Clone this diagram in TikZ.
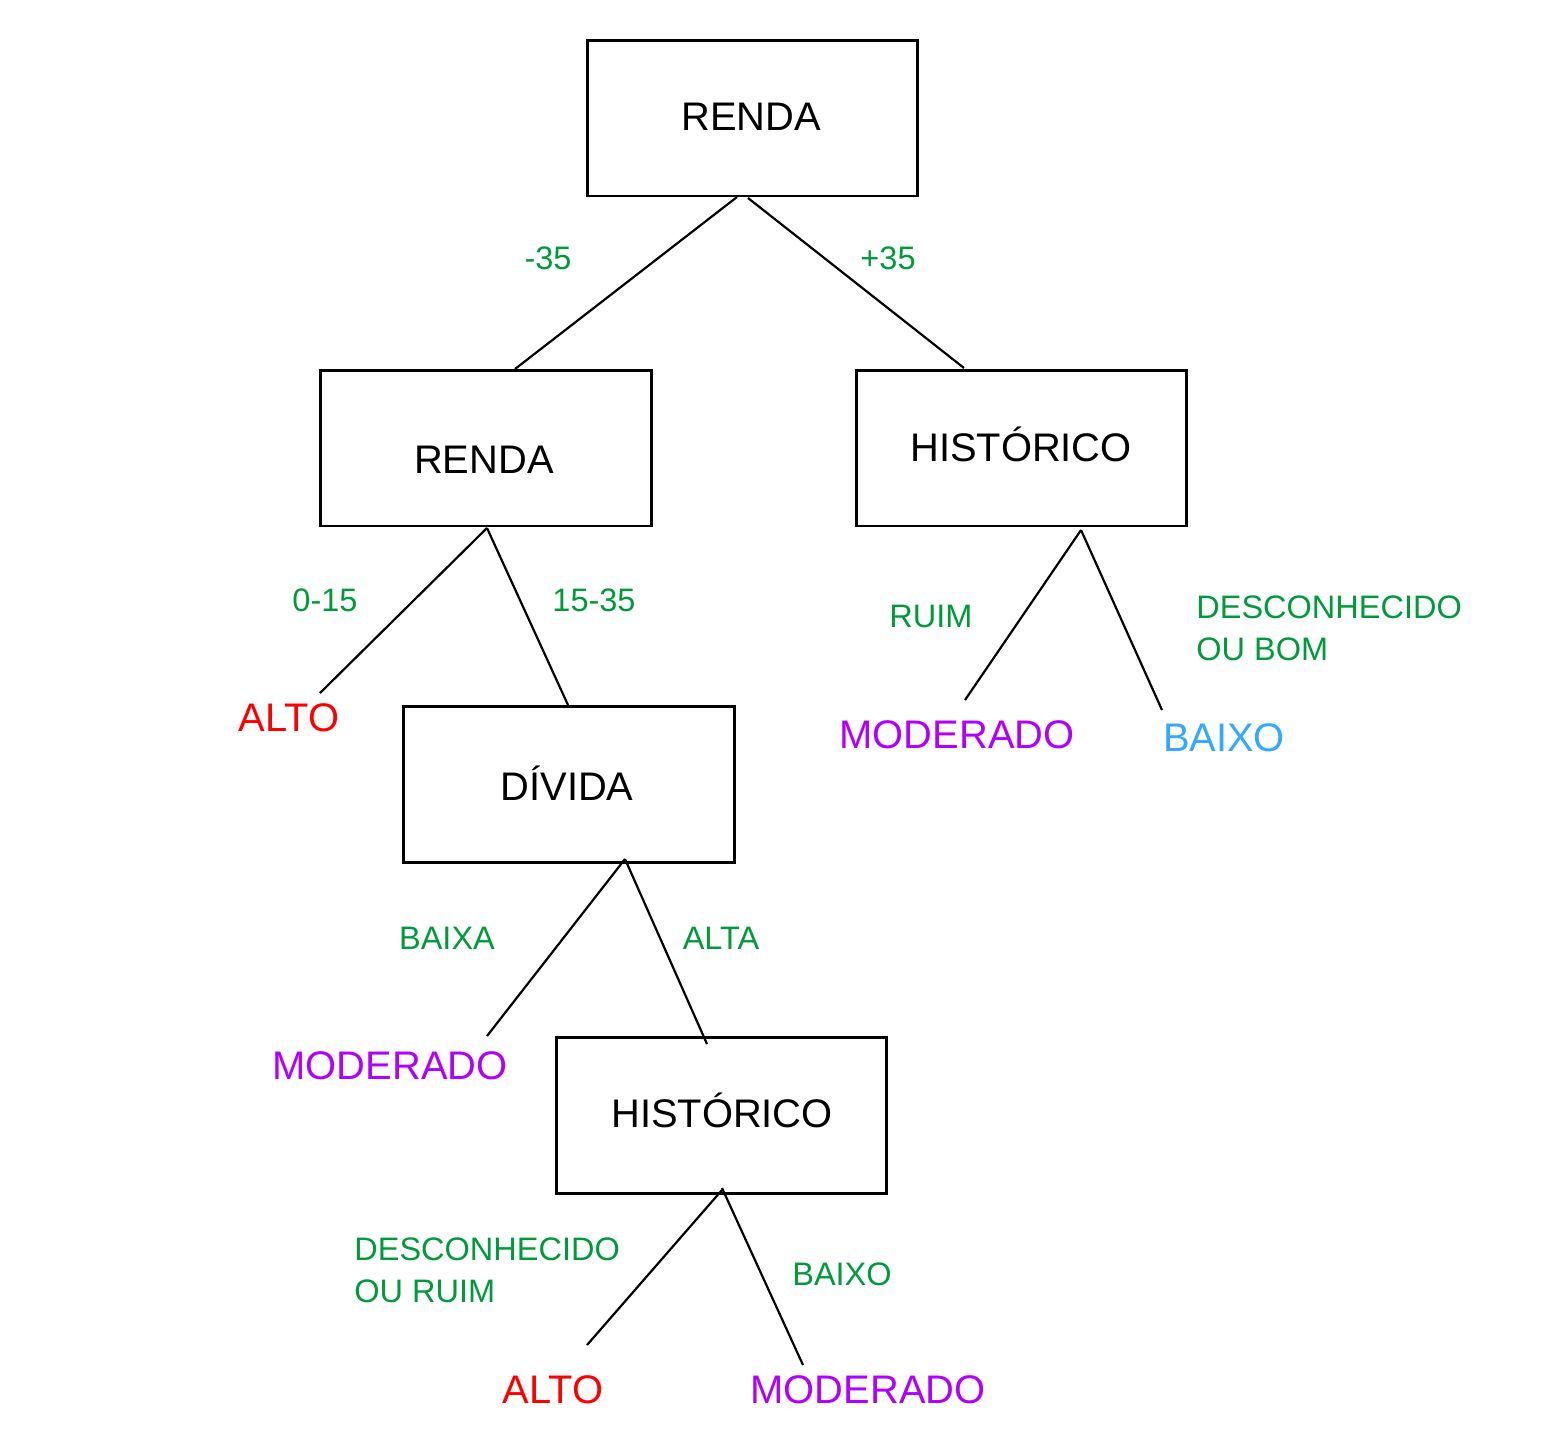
\documentclass[tikz,border=0pt]{standalone}
\usepackage{fontspec}
\setmainfont{Liberation Sans}
\definecolor{lblgreen}{HTML}{009A3A}
\definecolor{leafred}{HTML}{FF0000}
\definecolor{leafpurple}{HTML}{B000FF}
\definecolor{leafblue}{HTML}{33A8FF}
\tikzset{
  box/.style={draw=black, line width=1.7pt, minimum width=6.62cm, minimum height=3.12cm, inner sep=0pt},
  boxtext/.style={inner sep=0pt, font=\fontsize{22.7}{27}\selectfont},
  edge/.style={line width=1.25pt, black},
  cond/.style={text=lblgreen, inner sep=0pt, font=\fontsize{18.5}{23.8}\selectfont, align=left},
  leaf/.style={inner sep=0pt, font=\fontsize{22.7}{27}\selectfont},
}
\begin{document}
\begin{tikzpicture}[x=0.02cm, y=-0.02cm]
\useasboundingbox (0,0) rectangle (1550,1428);
% boxes
\node[box] (r1) at (752.5,118) {};
\node[boxtext] (r1t) at (751,117) {RENDA};
\node[box] (r2) at (486,448) {};
\node[boxtext] (r2t) at (484,460) {RENDA};
\node[box] (h1) at (1021.5,448) {};
\node[boxtext, anchor=base] (h1t) at (1021,461) {HISTÓRICO};
\node[box] (d1) at (569,784) {};
\node[boxtext, anchor=base] (d1t) at (567,800) {DÍVIDA};
\node[box] (h2) at (721.5,1115) {};
\node[boxtext, anchor=base] (h2t) at (722,1127) {HISTÓRICO};
% connector anchor points
\coordinate (r1l) at (737,197);
\coordinate (r1r) at (748,198);
\coordinate (r2top) at (515,369);
\coordinate (h1top) at (964,368);
\coordinate (r2b) at (487,528);
\coordinate (altoA) at (320,693);
\coordinate (d1top) at (568,705);
\coordinate (h1b) at (1081,530);
\coordinate (modA) at (965,700);
\coordinate (baixoA) at (1162,710);
\coordinate (d1b) at (625,859);
\coordinate (modB) at (487,1036);
\coordinate (h2top) at (707,1044);
\coordinate (h2bl) at (722,1190);
\coordinate (h2br) at (722,1188);
\coordinate (altoB) at (587,1345);
\coordinate (modC) at (803,1365);
% edges
\draw[edge] (r1l) -- (r2top);
\draw[edge] (r1r) -- (h1top);
\draw[edge] (r2b) -- (altoA);
\draw[edge] (r2b) -- (d1top);
\draw[edge] (h1b) -- (modA);
\draw[edge] (h1b) -- (baixoA);
\draw[edge] (d1b) -- (modB);
\draw[edge] (d1b) -- (h2top);
\draw[edge] (h2bl) -- (altoB);
\draw[edge] (h2br) -- (modC);
% condition labels
\node[cond] (c1) at (548,258) {-35};
\node[cond] (c2) at (888,258) {+35};
\node[cond] (c3) at (325,600) {0-15};
\node[cond] (c4) at (594,600) {15-35};
\node[cond] (c5) at (931,616) {RUIM};
\node[cond, anchor=west] (c6) at (1196,628) {DESCONHECIDO\\OU BOM};
\node[cond] (c7) at (447,938) {BAIXA};
\node[cond] (c8) at (721,938) {ALTA};
\node[cond, anchor=west] (c9) at (354,1270) {DESCONHECIDO\\OU RUIM};
\node[cond] (c10) at (842,1274) {BAIXO};
% leaves
\node[leaf, text=leafred] (l1) at (289,718) {ALTO};
\node[leaf, text=leafpurple] (l2) at (957,735) {MODERADO};
\node[leaf, text=leafblue] (l3) at (1224,738) {BAIXO};
\node[leaf, text=leafpurple] (l4) at (390,1066) {MODERADO};
\node[leaf, text=leafred] (l5) at (553,1390) {ALTO};
\node[leaf, text=leafpurple] (l6) at (868,1390) {MODERADO};
\end{tikzpicture}
\end{document}
